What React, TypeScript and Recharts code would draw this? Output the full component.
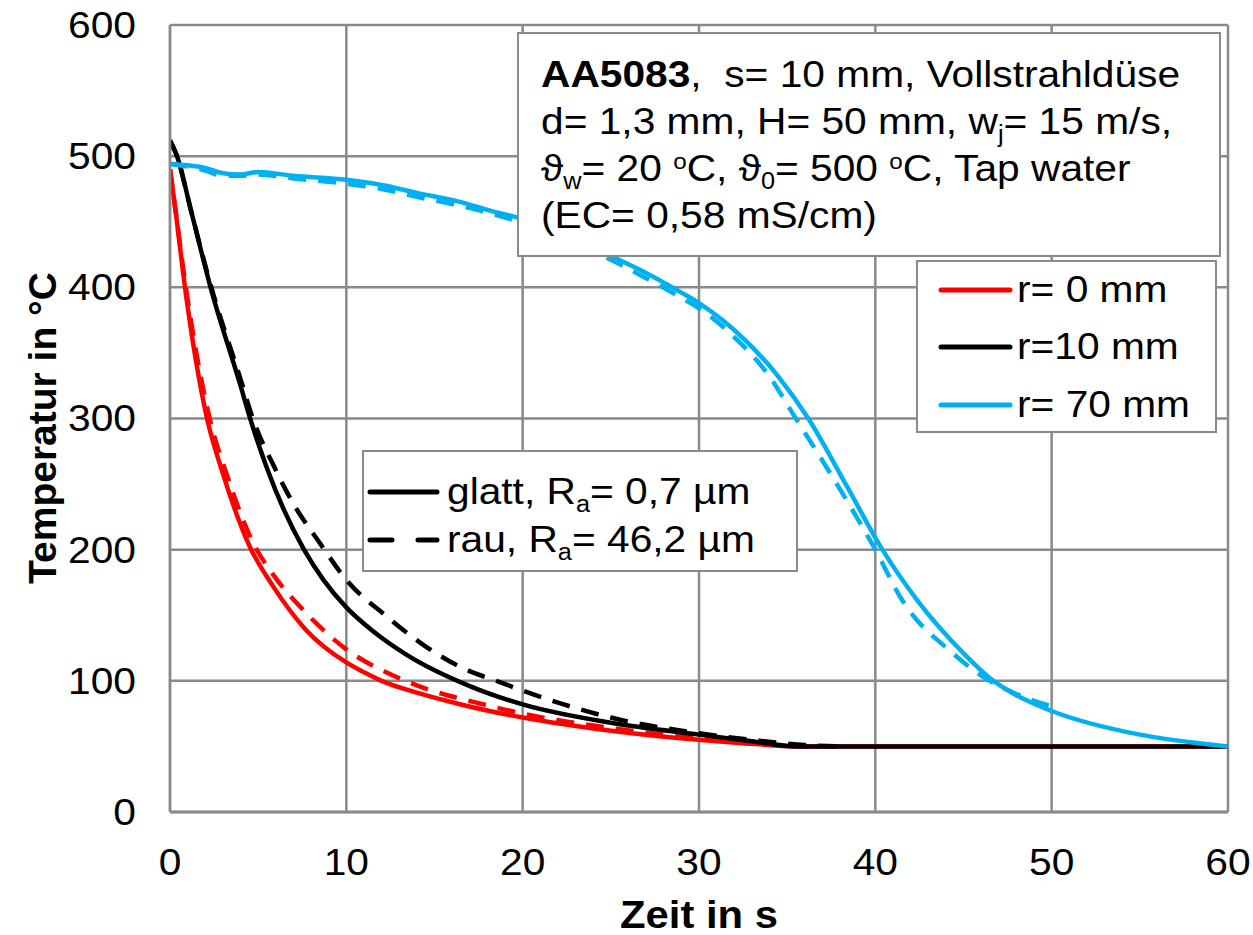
import React from "react";
import { LineChart, Line, XAxis, YAxis, CartesianGrid } from "recharts";

const xTicks = [0, 10, 20, 30, 40, 50, 60];
const yTicks = [0, 100, 200, 300, 400, 500, 600];

// [Zeit in s, Temperatur in °C]
const r0Glatt = [
  [0, 490], [0.3, 460], [0.85, 400], [2.1, 300], [3, 258], [4.5, 203], [5.85, 172], [7.7, 139],
  [10, 114], [11, 106.5], [12, 100], [14, 91], [16.5, 82], [20, 72], [25, 62], [30, 55], [33, 52],
  [35.5, 50], [45, 50], [60, 50],
];
const r0Rau = [
  [0, 490], [0.3, 460], [0.9, 400], [2.25, 300], [3.2, 258], [4.8, 203], [5.85, 181], [7.7, 152],
  [10, 124], [12.5, 105], [14.3, 95], [17.2, 84], [20, 75], [25, 64], [30, 56], [33, 52],
];
const r10Glatt = [
  [0, 512], [0.4, 500], [1.2, 458], [2.3, 400], [4, 325], [4.5, 302], [5.5, 262], [7.6, 200],
  [8.7, 177], [10, 156], [11.5, 138], [13.4, 120], [17, 96], [20, 82], [25, 68], [30, 59],
  [33, 54], [35.5, 50], [45, 50], [60, 50],
];
const r10Rau = [
  [0, 512], [0.4, 500], [1.2, 458], [2.3, 402], [4, 330], [4.7, 300], [5.95, 262], [7, 235],
  [8.5, 205], [10, 177], [12.3, 149], [14.2, 129], [16.4, 111], [18.7, 99], [21.4, 86], [25, 72],
  [30, 60], [33, 55], [36, 51], [38, 50],
];
const r70Glatt = [
  [0, 494], [1, 493], [2, 491], [3, 487], [4, 486], [5, 488], [7, 485], [10, 482], [12, 478],
  [14, 472], [16.5, 465], [18, 459], [20, 452], [22, 442], [25, 424], [27, 411], [29, 396],
  [30, 388], [32.6, 360], [34.5, 332], [36.2, 300], [38.4, 248], [40.4, 200], [42.4, 161],
  [45, 121], [46.5, 102], [48, 89], [50, 77], [55, 59], [58, 53], [60, 50],
];
const r70Rau = [
  [0, 494], [1, 492], [2, 489], [3, 485], [4, 485], [5, 486], [7, 483], [10, 479], [12, 475],
  [14, 469], [16.5, 462], [18, 457], [20, 449], [22, 439], [25, 421], [27, 407], [29, 392],
  [30, 384], [32, 362], [34, 332], [35.4, 302], [38, 246], [40, 200], [41.5, 162], [44.4, 121],
  [46, 104], [48, 90], [49.9, 81],
];

const toRows = (pts: number[][]) => pts.map(([t, T]) => ({ t, T }));

const FONT = '"Liberation Sans", Arial, sans-serif';
const SX = 1.1; // text in the original is a bit wide
const GRID = "#8a8a8a";
const RED = "#ff0000";
const BLUE = "#00b0f0";
const DASH = "18 12";
const LW = 4.5;

const ScaledTick = (props: any) => {
  const { x, y, payload, anchor } = props;
  return (
    <text
      transform={`translate(${x},${y}) scale(${SX},1)`}
      textAnchor={anchor}
      dominantBaseline="central"
      fontSize={37}
      fontFamily={FONT}
      fill="#000"
    >
      {payload.value}
    </text>
  );
};

const txt: React.CSSProperties = {
  position: "absolute",
  fontSize: 37,
  lineHeight: "40px",
  whiteSpace: "nowrap",
  transform: `scaleX(${SX})`,
  transformOrigin: "left center",
  color: "#000",
};
const box: React.CSSProperties = {
  position: "absolute",
  background: "#fff",
  border: `2px solid ${GRID}`,
  boxSizing: "border-box",
};
const sub: React.CSSProperties = { fontSize: 23, verticalAlign: "-8px", lineHeight: 0 };
const sup: React.CSSProperties = { fontSize: 22, verticalAlign: "12px", lineHeight: 0 };

const LegendLine = ({ x1, x2, y, color, dash }: any) => (
  <svg style={{ position: "absolute", left: 0, top: 0, overflow: "visible" }} width={1} height={1}>
    <line x1={x1} x2={x2} y1={y} y2={y} stroke={color} strokeWidth={5} strokeLinecap="round" strokeDasharray={dash} />
  </svg>
);

export default function App() {
  return (
    <div
      style={{
        position: "absolute",
        left: 0,
        top: 0,
        width: 1253,
        height: 935,
        background: "#fff",
        fontFamily: FONT,
      }}
    >
      <LineChart width={1253} height={935} margin={{ top: 25, right: 25, bottom: 0, left: 0 }}>
        <CartesianGrid stroke={GRID} strokeWidth={2.5} />
        <XAxis
          type="number"
          dataKey="t"
          domain={[0, 60]}
          ticks={xTicks}
          height={123}
          tickLine={false}
          tickSize={0}
          tickMargin={50}
          axisLine={{ stroke: GRID, strokeWidth: 3 }}
          tick={(p: any) => <ScaledTick {...p} anchor="middle" />}
          allowDataOverflow
        />
        <YAxis
          type="number"
          dataKey="T"
          domain={[0, 600]}
          ticks={yTicks}
          width={170}
          tickLine={false}
          tickSize={0}
          tickMargin={34}
          axisLine={{ stroke: GRID, strokeWidth: 2.5 }}
          tick={(p: any) => <ScaledTick {...p} anchor="end" />}
          allowDataOverflow
        />
        <Line data={toRows(r0Rau)} dataKey="T" type="monotone" stroke={RED} strokeWidth={LW} strokeDasharray={DASH} dot={false} isAnimationActive={false} />
        <Line data={toRows(r0Glatt)} dataKey="T" type="monotone" stroke={RED} strokeWidth={LW} dot={false} isAnimationActive={false} />
        <Line data={toRows(r10Rau)} dataKey="T" type="monotone" stroke="#000" strokeWidth={LW} strokeDasharray={DASH} dot={false} isAnimationActive={false} />
        <Line data={toRows(r10Glatt)} dataKey="T" type="monotone" stroke="#000" strokeWidth={LW} dot={false} isAnimationActive={false} />
        <Line data={toRows(r70Rau)} dataKey="T" type="monotone" stroke={BLUE} strokeWidth={LW} strokeDasharray={DASH} dot={false} isAnimationActive={false} />
        <Line data={toRows(r70Glatt)} dataKey="T" type="monotone" stroke={BLUE} strokeWidth={LW} dot={false} isAnimationActive={false} />
      </LineChart>

      {/* axis titles */}
      <div
        style={{
          position: "absolute",
          left: 42,
          top: 428,
          fontSize: 39,
          lineHeight: "39px",
          fontWeight: "bold",
          whiteSpace: "nowrap",
          transform: "translate(-50%, -50%) rotate(-90deg)",
        }}
      >
        Temperatur in °C
      </div>
      <div
        style={{
          position: "absolute",
          left: 699,
          top: 915,
          fontSize: 38,
          lineHeight: "38px",
          fontWeight: "bold",
          whiteSpace: "nowrap",
          transform: `translate(-50%, -50%) scaleX(${SX})`,
        }}
      >
        Zeit in s
      </div>

      {/* test conditions */}
      <div style={{ ...box, left: 517, top: 32, width: 704, height: 225 }}>
        <div style={{ ...txt, left: 22, top: 21 }}>
          <b>AA5083</b>,&nbsp; s= 10 mm, Vollstrahldüse
        </div>
        <div style={{ ...txt, left: 22, top: 68 }}>
          d= 1,3 mm, H= 50 mm, w<span style={sub}>j</span>= 15 m/s,
        </div>
        <div style={{ ...txt, left: 22, top: 115 }}>
          ϑ<span style={sub}>w</span>= 20 <span style={sup}>o</span>C, ϑ<span style={sub}>0</span>= 500{" "}
          <span style={sup}>o</span>C, Tap water
        </div>
        <div style={{ ...txt, left: 22, top: 162 }}>(EC= 0,58 mS/cm)</div>
      </div>

      {/* radius legend */}
      <div style={{ ...box, left: 916, top: 260, width: 301, height: 173 }}>
        <LegendLine x1={23} x2={92} y={28} color={RED} />
        <LegendLine x1={23} x2={92} y={85} color="#000" />
        <LegendLine x1={23} x2={92} y={143} color={BLUE} />
        <div style={{ ...txt, left: 99, top: 8 }}>r= 0 mm</div>
        <div style={{ ...txt, left: 99, top: 65 }}>r=10 mm</div>
        <div style={{ ...txt, left: 99, top: 123 }}>r= 70 mm</div>
      </div>

      {/* surface legend */}
      <div style={{ ...box, left: 362, top: 450, width: 436, height: 122 }}>
        <LegendLine x1={6} x2={73} y={40} color="#000" />
        <LegendLine x1={6} x2={73} y={88} color="#000" dash="22 26" />
        <div style={{ ...txt, left: 83, top: 20 }}>
          glatt, R<span style={sub}>a</span>= 0,7 µm
        </div>
        <div style={{ ...txt, left: 83, top: 68 }}>
          rau, R<span style={sub}>a</span>= 46,2 µm
        </div>
      </div>
    </div>
  );
}
